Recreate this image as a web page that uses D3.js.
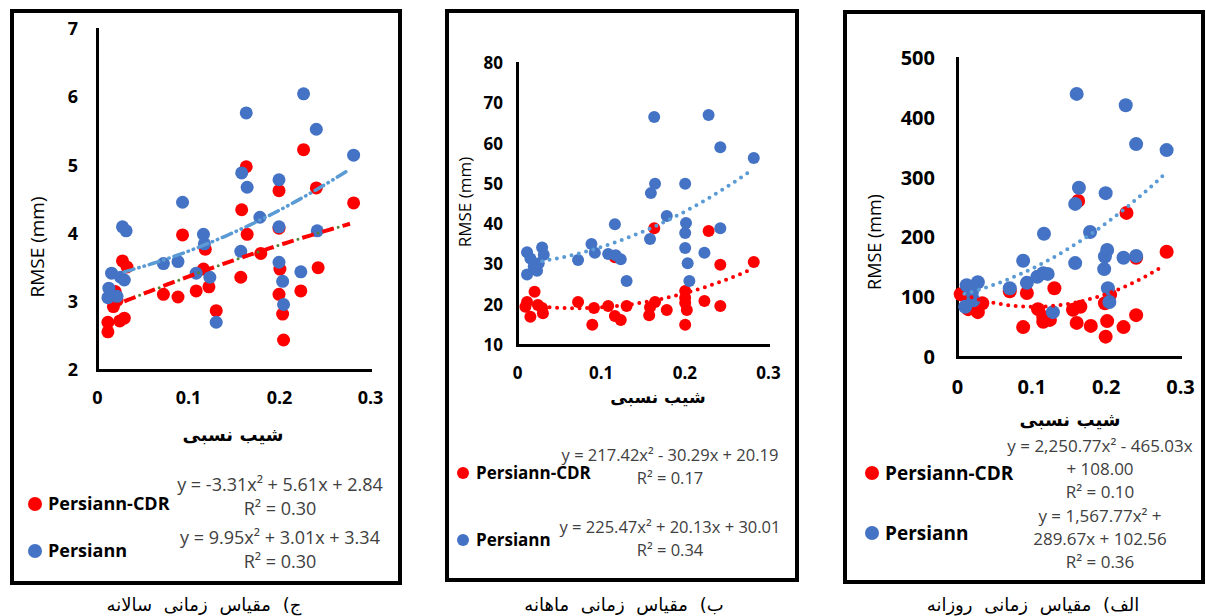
<!DOCTYPE html>
<html>
<head>
<meta charset="utf-8">
<script src="https://cdn.jsdelivr.net/npm/d3@7"></script>
<style>
  body { margin: 0; background: #fff; }
  svg { display: block; font-family: "Open Sans", "DejaVu Sans", sans-serif; }
</style>
</head>
<body>
<svg id="chart" width="1206" height="616"></svg>
<script>
// ---- data ----
const xTicks = [0, 0.1, 0.2, 0.3];
const yearlyTicks = [2, 3, 4, 5, 6, 7];
const monthlyTicks = [10, 20, 30, 40, 50, 60, 70, 80];
const dailyTicks = [0, 100, 200, 300, 400, 500];

const seriesNames = ["Persiann-CDR", "Persiann"];

// annual (ج)
const yearlyCdr = [
  [0.012, 2.70], [0.012, 2.56], [0.025, 2.72], [0.030, 2.76], [0.018, 2.93], [0.022, 3.02],
  [0.020, 3.15], [0.028, 3.60], [0.033, 3.51], [0.073, 3.11], [0.089, 3.07], [0.094, 3.98],
  [0.109, 3.16], [0.117, 3.48], [0.119, 3.77], [0.123, 3.22], [0.131, 2.87], [0.158, 3.36],
  [0.159, 4.35], [0.164, 4.98], [0.165, 3.99], [0.180, 3.71], [0.200, 4.63], [0.200, 4.08],
  [0.201, 3.48], [0.200, 3.11], [0.204, 2.82], [0.205, 2.44], [0.224, 3.16], [0.227, 5.23],
  [0.241, 4.67], [0.243, 3.50], [0.282, 4.45]
];
const yearlyPersiann = [
  [0.012, 3.06], [0.013, 3.20], [0.016, 3.42], [0.022, 3.08], [0.026, 3.36], [0.030, 3.32],
  [0.028, 4.10], [0.032, 4.04], [0.073, 3.56], [0.089, 3.59], [0.094, 4.46], [0.109, 3.42],
  [0.117, 3.99], [0.118, 3.85], [0.124, 3.36], [0.131, 2.70], [0.158, 3.74], [0.159, 4.89],
  [0.164, 5.77], [0.165, 4.68], [0.179, 4.24], [0.200, 4.79], [0.200, 4.10], [0.200, 3.58],
  [0.204, 3.30], [0.205, 2.96], [0.224, 3.44], [0.227, 6.05], [0.241, 5.53], [0.242, 4.04],
  [0.282, 5.15]
];

// monthly (ب)
const monthlyCdr = [
  [0.010, 19.5], [0.012, 20.7], [0.016, 17.0], [0.021, 23.2], [0.025, 19.9], [0.030, 19.2],
  [0.031, 17.9], [0.073, 20.7], [0.090, 15.0], [0.092, 19.2], [0.109, 19.7], [0.117, 17.2],
  [0.117, 31.8], [0.124, 16.2], [0.131, 19.7], [0.158, 17.4], [0.159, 19.4], [0.164, 39.0],
  [0.165, 20.7], [0.179, 18.7], [0.201, 23.4], [0.201, 21.7], [0.201, 20.4], [0.203, 18.7],
  [0.201, 15.0], [0.224, 20.9], [0.229, 38.3], [0.243, 29.9], [0.243, 19.7], [0.283, 30.6]
];
const monthlyPersiann = [
  [0.012, 33.0], [0.016, 31.5], [0.012, 27.5], [0.020, 29.5], [0.024, 28.4], [0.026, 30.3],
  [0.030, 34.2], [0.032, 32.4], [0.073, 31.1], [0.089, 35.1], [0.093, 32.9], [0.109, 32.6],
  [0.117, 40.0], [0.118, 32.3], [0.124, 31.3], [0.131, 25.9], [0.159, 36.3], [0.160, 47.7],
  [0.164, 66.6], [0.165, 50.0], [0.179, 42.0], [0.201, 50.0], [0.202, 40.3], [0.201, 37.8],
  [0.201, 34.1], [0.204, 30.3], [0.206, 25.9], [0.224, 32.9], [0.229, 67.1], [0.243, 59.1],
  [0.243, 39.0], [0.283, 56.4]
];

// daily (الف)
const dailyCdr = [
  [0.005, 105], [0.015, 80], [0.020, 95], [0.028, 75], [0.034, 90], [0.071, 110], [0.089, 50],
  [0.094, 107], [0.109, 80], [0.116, 59], [0.116, 67], [0.125, 62], [0.131, 115], [0.156, 79],
  [0.161, 57], [0.163, 261], [0.166, 84], [0.180, 52], [0.199, 90], [0.200, 34], [0.202, 60],
  [0.206, 104], [0.224, 50], [0.228, 241], [0.241, 166], [0.241, 70], [0.282, 176]
];
const dailyPersiann = [
  [0.011, 84], [0.013, 120], [0.022, 95], [0.028, 125], [0.020, 108], [0.071, 115], [0.089, 161],
  [0.094, 124], [0.108, 134], [0.116, 140], [0.122, 139], [0.117, 206], [0.129, 75], [0.159, 157],
  [0.159, 256], [0.161, 440], [0.164, 283], [0.179, 209], [0.198, 147], [0.199, 168], [0.200, 274],
  [0.202, 179], [0.203, 115], [0.205, 92], [0.224, 166], [0.227, 421], [0.241, 169], [0.241, 356],
  [0.282, 346]
];

// fitted trendline coefficients [a, b, c] for y = a x^2 + b x + c
const yearlyFit = [[-3.31, 5.61, 2.84], [9.95, 3.01, 3.34]];
const monthlyFit = [[217.42, -30.29, 20.19], [225.47, 20.13, 30.01]];
const dailyFit = [[2250.77, -465.03, 108.00], [1567.77, 289.67, 102.56]];

const yearlyEq = [["y = -3.31x² + 5.61x + 2.84", "R² = 0.30"], ["y = 9.95x² + 3.01x + 3.34", "R² = 0.30"]];
const monthlyEq = [["y = 217.42x² - 30.29x + 20.19", "R² = 0.17"], ["y = 225.47x² + 20.13x + 30.01", "R² = 0.34"]];
const dailyEq = [["y = 2,250.77x² - 465.03x", "+ 108.00", "R² = 0.10"], ["y = 1,567.77x² +", "289.67x + 102.56", "R² = 0.36"]];

const xTitle = "شیب نسبی";
const yTitle = "RMSE (mm)";
const captions = [
  "ج) مقیاس زمانی سالانه",
  "ب) مقیاس زمانی ماهانه",
  "الف) مقیاس زمانی روزانه"
];

const RED = "#ff0000", BLUE = "#4472c4", LIGHTBLUE = "#5b9bd5", GREEN = "#548235";

const svg = d3.select("#chart");

const panels = [
  {
    cdr: yearlyCdr, per: yearlyPersiann, fit: yearlyFit, eq: yearlyEq, yDomain: [2, 7], yTicks: yearlyTicks,
    frame: [12, 11, 388, 572], left: 97, right: 370, top: 29, bottom: 370,
    tickSize: 18, yPad: 19, xLabY: 398, r: 6.5, fitRange: [0.03, 0.28], style: "annual",
    yTitleAt: [37, 247], yTitleSize: 19, xTitleAt: [233, 435], xTitleSize: 18,
    legendX: 35, legendTextX: 48, legendY: [504, 551], legendSize: 18, legendR: 7,
    eqX: 280, eqY: [[485, 509], [538, 562]], eqSize: 18, caption: captions[0], capAt: [204, 605]
  },
  {
    cdr: monthlyCdr, per: monthlyPersiann, fit: monthlyFit, eq: monthlyEq, yDomain: [10, 80], yTicks: monthlyTicks,
    frame: [447, 11, 350, 569], left: 517, right: 768, top: 63, bottom: 345,
    tickSize: 17, yPad: 14, xLabY: 373, r: 6, fitRange: [0.03, 0.28], style: "dotted",
    yTitleAt: [465, 202], yTitleSize: 17, xTitleAt: [658, 397], xTitleSize: 17,
    legendX: 463, legendTextX: 476, legendY: [473, 540], legendSize: 17, legendR: 6,
    eqX: 670, eqY: [[455, 478], [527, 550]], eqSize: 16.5, caption: captions[1], capAt: [624, 605]
  },
  {
    cdr: dailyCdr, per: dailyPersiann, fit: dailyFit, eq: dailyEq, yDomain: [0, 500], yTicks: dailyTicks,
    frame: [845, 12, 358, 570], left: 957, right: 1180, top: 58, bottom: 357,
    tickSize: 20, yPad: 22, xLabY: 387, r: 7, fitRange: [0.01, 0.28], style: "dotted",
    yTitleAt: [875, 242], yTitleSize: 18, xTitleAt: [1070, 420], xTitleSize: 18,
    legendX: 872, legendTextX: 885, legendY: [473, 533], legendSize: 19, legendR: 7,
    eqX: 1100, eqY: [[446, 469, 492], [516, 539, 562]], eqSize: 17, caption: captions[2], capAt: [1033, 605]
  }
];

panels.forEach(drawPanel);

function drawPanel(p) {
  const g = svg.append("g");

  g.append("rect")
    .attr("x", p.frame[0]).attr("y", p.frame[1])
    .attr("width", p.frame[2]).attr("height", p.frame[3])
    .attr("fill", "none").attr("stroke", "#000").attr("stroke-width", 4);

  const x = d3.scaleLinear().domain([0, 0.3]).range([p.left, p.right]);
  const y = d3.scaleLinear().domain(p.yDomain).range([p.bottom, p.top]);

  const yAxis = d3.axisLeft(y).tickValues(p.yTicks).tickSize(0).tickPadding(p.yPad).tickFormat(d3.format("d"));
  const gy = g.append("g").attr("transform", `translate(${p.left},0)`).call(yAxis);

  const xAxis = d3.axisBottom(x).tickValues(xTicks).tickSize(0)
    .tickFormat((d) => (d === 0 ? "0" : d3.format(".1f")(d)));
  const gx = g.append("g").attr("transform", `translate(0,${p.bottom})`).call(xAxis);
  gx.selectAll(".tick text").attr("y", p.xLabY - p.bottom).attr("dy", "0.36em");

  [gx, gy].forEach((a) => {
    a.select(".domain").attr("stroke", "#000").attr("stroke-width", 3).attr("stroke-linecap", "square");
    a.selectAll(".tick text")
      .attr("fill", "#000").style("font-size", p.tickSize + "px").style("font-weight", 700)
      .style("font-family", '"Open Sans", sans-serif');
  });

  // points: CDR first, Persiann on top
  [[p.cdr, RED], [p.per, BLUE]].forEach(([data, col]) => {
    g.append("g").selectAll("circle").data(data).enter().append("circle")
      .attr("cx", (d) => x(d[0])).attr("cy", (d) => y(d[1]))
      .attr("r", p.r).attr("fill", col);
  });

  // trendlines
  const xs = d3.range(p.fitRange[0], p.fitRange[1] + 1e-9, 0.004);
  const line = (c) => d3.line().x((v) => x(v)).y((v) => y(c[0] * v * v + c[1] * v + c[2]))(xs);

  if (p.style === "annual") {
    g.append("path").attr("d", line(p.fit[1])).attr("fill", "none")
      .attr("stroke", LIGHTBLUE).attr("stroke-width", 3.5).attr("stroke-linecap", "round")
      .attr("stroke-dasharray", "10 5 0.5 5 0.5 5");
    g.append("path").attr("d", line(p.fit[0])).attr("fill", "none")
      .attr("stroke", RED).attr("stroke-width", 4)
      .attr("stroke-dasharray", "12 9");
    g.append("path").attr("d", line(p.fit[0])).attr("fill", "none")
      .attr("stroke", GREEN).attr("stroke-width", 3).attr("stroke-linecap", "round")
      .attr("stroke-dasharray", "0 21").attr("stroke-dashoffset", -16.5);
  } else {
    [[p.fit[0], RED], [p.fit[1], LIGHTBLUE]].forEach(([c, col]) => {
      g.append("path").attr("d", line(c)).attr("fill", "none")
        .attr("stroke", col).attr("stroke-width", 4).attr("stroke-linecap", "round")
        .attr("stroke-dasharray", "0 7.5");
    });
  }

  // axis titles
  g.append("text")
    .attr("transform", `translate(${p.yTitleAt[0]},${p.yTitleAt[1]}) rotate(-90)`)
    .attr("text-anchor", "middle").attr("dy", "0.35em")
    .style("font-size", p.yTitleSize + "px").attr("fill", "#000")
    .text(yTitle);

  g.append("text")
    .attr("x", p.xTitleAt[0]).attr("y", p.xTitleAt[1])
    .attr("text-anchor", "middle").attr("dy", "0.35em")
    .attr("direction", "rtl")
    .style("font-family", '"DejaVu Sans", sans-serif').style("font-weight", 700)
    .style("font-size", p.xTitleSize + "px").attr("fill", "#000")
    .text(xTitle);

  // legend
  [RED, BLUE].forEach((col, i) => {
    g.append("circle").attr("cx", p.legendX).attr("cy", p.legendY[i]).attr("r", p.legendR).attr("fill", col);
    g.append("text").attr("x", p.legendTextX).attr("y", p.legendY[i]).attr("dy", "0.35em")
      .style("font-size", p.legendSize + "px").style("font-weight", 700).attr("fill", "#000")
      .text(seriesNames[i]);
  });

  // equations
  p.eq.forEach((lines, i) => {
    lines.forEach((t, j) => {
      g.append("text").attr("x", p.eqX).attr("y", p.eqY[i][j]).attr("dy", "0.35em")
        .attr("text-anchor", "middle").style("font-size", p.eqSize + "px").attr("fill", "#404040")
        .text(t);
    });
  });

  // caption
  g.append("text").attr("x", p.capAt[0]).attr("y", p.capAt[1]).attr("dy", "0.35em")
    .attr("text-anchor", "middle").attr("direction", "rtl")
    .style("font-family", '"DejaVu Sans", sans-serif').style("font-size", "18px")
    .style("word-spacing", "6px").attr("fill", "#000")
    .text(p.caption);
}
</script>
</body>
</html>
